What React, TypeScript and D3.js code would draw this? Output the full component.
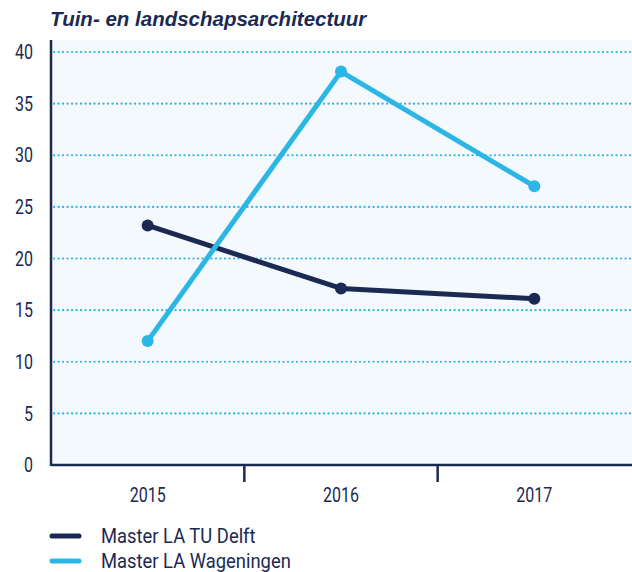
import React from "react";
import * as d3 from "d3";

const years = ["2015", "2016", "2017"];
const delft = [23.2, 17.1, 16.1];
const wageningen = [12.0, 38.1, 27.0];
const yTicks = [0, 5, 10, 15, 20, 25, 30, 35, 40];
const seriesNames = ["Master LA TU Delft", "Master LA Wageningen"];
const title = "Tuin- en landschapsarchitectuur";

const W = 632;
const H = 572;
const left = 51;
const right = 631;
const top = 40;
const bottom = 465;
const dark = "#1b2a52";
const light = "#2cb6e6";
const font = "Roboto, sans-serif";

function CText(props: {
  x: number;
  y: number;
  sx: number;
  size: number;
  anchor?: string;
  children: React.ReactNode;
}) {
  return (
    <text
      transform={`translate(${props.x},${props.y}) scale(${props.sx},1)`}
      textAnchor={props.anchor || "start"}
      dy="0.36em"
      fill={dark}
      fontFamily={font}
      fontSize={props.size}
    >
      {props.children}
    </text>
  );
}

export default function App() {
  const x = d3.scaleBand().domain(years).range([left, right]).padding(0);
  const y = d3.scaleLinear().domain([0, 40]).range([bottom, 52]);
  const cx = (i: number) => x(years[i])! + x.bandwidth() / 2;
  const line = d3
    .line<number>()
    .x((_, i) => cx(i))
    .y((d) => y(d));
  const series = [
    { name: seriesNames[0], values: delft, color: dark },
    { name: seriesNames[1], values: wageningen, color: light },
  ];
  return (
    <svg
      width={W}
      height={H}
      style={{ position: "absolute", left: 0, top: 0, background: "#fff" }}
    >
      <rect x={left} y={top} width={W - left} height={bottom - top} fill="#f4f9fd" />
      <text
        x={50}
        y={26}
        fill={dark}
        fontFamily="'Liberation Sans', Arial, sans-serif"
        fontWeight="bold"
        fontStyle="italic"
        fontSize={20.5}
      >
        {title}
      </text>
      {yTicks.filter((t) => t > 0).map((t) => (
        <line
          key={t}
          x1={left + 3}
          x2={W}
          y1={y(t)}
          y2={y(t)}
          stroke={light}
          strokeWidth={2.2}
          strokeDasharray="0.1 4.4"
          strokeLinecap="round"
        />
      ))}
      {yTicks.map((t) => (
        <CText key={t} x={33} y={y(t)} sx={0.8} size={20} anchor="end">
          {t}
        </CText>
      ))}
      <line x1={left} x2={left} y1={top} y2={bottom + 1} stroke={dark} strokeWidth={2.5} />
      <line x1={left} x2={W} y1={bottom} y2={bottom} stroke={dark} strokeWidth={2.5} />
      {years.slice(1).map((yr) => (
        <line
          key={yr}
          x1={x(yr)!}
          x2={x(yr)!}
          y1={bottom}
          y2={482}
          stroke={dark}
          strokeWidth={2.5}
        />
      ))}
      {years.map((yr, i) => (
        <CText key={yr} x={cx(i)} y={495} sx={0.8} size={20} anchor="middle">
          {yr}
        </CText>
      ))}
      {series.map((s) => (
        <g key={s.name}>
          <path d={line(s.values)!} fill="none" stroke={s.color} strokeWidth={5} strokeLinejoin="round" />
          {s.values.map((v, i) => (
            <circle key={i} cx={cx(i)} cy={y(v)} r={6} fill={s.color} />
          ))}
        </g>
      ))}
      {series.map((s, i) => (
        <g key={s.name}>
          <line
            x1={52}
            x2={79}
            y1={536 + i * 25}
            y2={536 + i * 25}
            stroke={s.color}
            strokeWidth={5}
            strokeLinecap="round"
          />
          <CText x={101} y={536 + i * 25} sx={0.92} size={20}>
            {s.name}
          </CText>
        </g>
      ))}
    </svg>
  );
}
